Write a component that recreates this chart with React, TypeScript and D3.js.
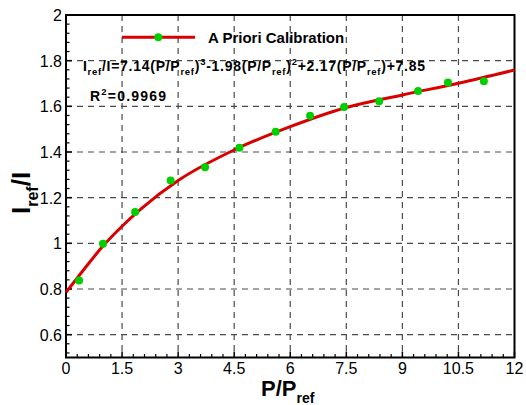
import React from "react";
import * as d3 from "d3";

// Measured calibration points
const pointX = [0.35, 0.99, 1.85, 2.8, 3.72, 4.64, 5.61, 6.53, 7.44, 8.38, 9.42, 10.22, 11.18];
const pointY = [0.837, 0.998, 1.137, 1.275, 1.333, 1.419, 1.489, 1.559, 1.597, 1.622, 1.667, 1.704, 1.71];

// Fit curve
const curveX = [0, 0.5, 1, 1.5, 2, 3, 4.5, 6, 7.5, 9, 10.5, 12];
const curveY = [0.785, 0.89, 0.99, 1.075, 1.15, 1.275, 1.409, 1.511, 1.595, 1.65, 1.701, 1.759];

const xTicks = [0, 1.5, 3, 4.5, 6, 7.5, 9, 10.5, 12];
const xTickLabels = ["0", "1.5", "3", "4.5", "6", "7.5", "9", "10.5", "12"];
const yTicks = [0.6, 0.8, 1, 1.2, 1.4, 1.6, 1.8, 2];
const yTickLabels = ["0.6", "0.8", "1", "1.2", "1.4", "1.6", "1.8", "2"];

const W = 526;
const H = 405;
const M = { left: 66, right: 514.5, top: 15, bottom: 357.5 };

export default function App() {
  const x = d3.scaleLinear().domain([0, 12]).range([M.left, M.right]);
  const y = d3.scaleLinear().domain([0.5, 2]).range([M.bottom, M.top]);

  const line = d3
    .line<number>()
    .x((_, i) => x(curveX[i]))
    .y((d) => y(d))
    .curve(d3.curveMonotoneX);

  const xMinor = d3.range(0, 12.0001, 0.3).filter((v) => Math.abs(v / 1.5 - Math.round(v / 1.5)) > 1e-6);
  const yMinor = d3.range(0.52, 2, 0.04).filter((v) => Math.abs(v / 0.2 - Math.round(v / 0.2)) > 1e-6);

  const font = "'Liberation Sans', Arial, sans-serif";
  const gridStyle = { stroke: "#4a4a4a", strokeWidth: 1.2, strokeDasharray: "6,5" };

  return (
    <svg
      width={W}
      height={H}
      style={{ position: "absolute", left: 0, top: 0, background: "#fff" }}
      fontFamily={font}
    >
      <rect width={W} height={H} fill="#fff" />
      {/* grid */}
      {xTicks.slice(1, -1).map((t) => (
        <line key={"gx" + t} x1={x(t)} x2={x(t)} y1={M.top} y2={M.bottom} {...gridStyle} />
      ))}
      {yTicks.slice(0, -1).map((t) => (
        <line key={"gy" + t} x1={M.left} x2={M.right} y1={y(t)} y2={y(t)} {...gridStyle} />
      ))}
      {/* ticks */}
      {xTicks.map((t) => (
        <line key={"tx" + t} x1={x(t)} x2={x(t)} y1={M.bottom} y2={M.bottom - 6} stroke="#000" strokeWidth={1.5} />
      ))}
      {xMinor.map((t) => (
        <line key={"mx" + t} x1={x(t)} x2={x(t)} y1={M.bottom} y2={M.bottom - 3.5} stroke="#000" strokeWidth={1.2} />
      ))}
      {yTicks.map((t) => (
        <line key={"ty" + t} x1={M.left} x2={M.left + 6} y1={y(t)} y2={y(t)} stroke="#000" strokeWidth={1.5} />
      ))}
      {yMinor.map((t) => (
        <line key={"my" + t} x1={M.left} x2={M.left + 3.5} y1={y(t)} y2={y(t)} stroke="#000" strokeWidth={1.2} />
      ))}
      {/* frame */}
      <rect
        x={M.left}
        y={M.top}
        width={M.right - M.left}
        height={M.bottom - M.top}
        fill="none"
        stroke="#000"
        strokeWidth={2}
      />
      {/* curve */}
      <path d={line(curveY) || ""} fill="none" stroke="#d90000" strokeWidth={3} />
      {/* points */}
      {pointX.map((px, i) => (
        <circle key={"p" + i} cx={x(px)} cy={y(pointY[i])} r={4} fill="#00d000" />
      ))}
      {/* tick labels */}
      {xTicks.map((t, i) => (
        <text key={"lx" + t} x={x(t)} y={374} textAnchor="middle" fontSize={16}>
          {xTickLabels[i]}
        </text>
      ))}
      {yTicks.map((t, i) => (
        <text key={"ly" + t} x={62} y={y(t) + 6} textAnchor="end" fontSize={16}>
          {yTickLabels[i]}
        </text>
      ))}
      {/* axis titles */}
      <text x={261} y={395.5} fontSize={22} fontWeight="bold">
        P/P
        <tspan fontSize={14} dy={7}>ref</tspan>
      </text>
      <text transform="translate(30,214) rotate(-90)" fontSize={26} fontWeight="bold">
        I
        <tspan fontSize={16} dy={8}>ref</tspan>
        <tspan dy={-8}>/I</tspan>
      </text>
      {/* legend */}
      <line x1={122} x2={195} y1={37.3} y2={37.3} stroke="#d90000" strokeWidth={3} />
      <circle cx={158.3} cy={37.3} r={4} fill="#00d000" />
      <text x={208} y={42.7} fontSize={15} fontWeight="bold">
        A Priori Calibration
      </text>
      {/* equation */}
      <text x={83} y={71} fontSize={14} fontWeight="bold" textLength={342} lengthAdjust="spacing">
        I<tspan fontSize={9.5} dy={4}>ref</tspan>
        <tspan dy={-4}>/I=7.14(P/P</tspan>
        <tspan fontSize={9.5} dy={4}>ref</tspan>
        <tspan dy={-4}>)</tspan>
        <tspan fontSize={9.5} dy={-6}>3</tspan>
        <tspan dy={6}>-1.98(P/P</tspan>
        <tspan fontSize={9.5} dy={4}>ref</tspan>
        <tspan dy={-4}>)</tspan>
        <tspan fontSize={9.5} dy={-6}>2</tspan>
        <tspan dy={6}>+2.17(P/P</tspan>
        <tspan fontSize={9.5} dy={4}>ref</tspan>
        <tspan dy={-4}>)+7.85</tspan>
      </text>
      <text x={90} y={100.5} fontSize={14} fontWeight="bold" textLength={76} lengthAdjust="spacing">
        R<tspan fontSize={9.5} dy={-6}>2</tspan>
        <tspan dy={6}>=0.9969</tspan>
      </text>
    </svg>
  );
}
